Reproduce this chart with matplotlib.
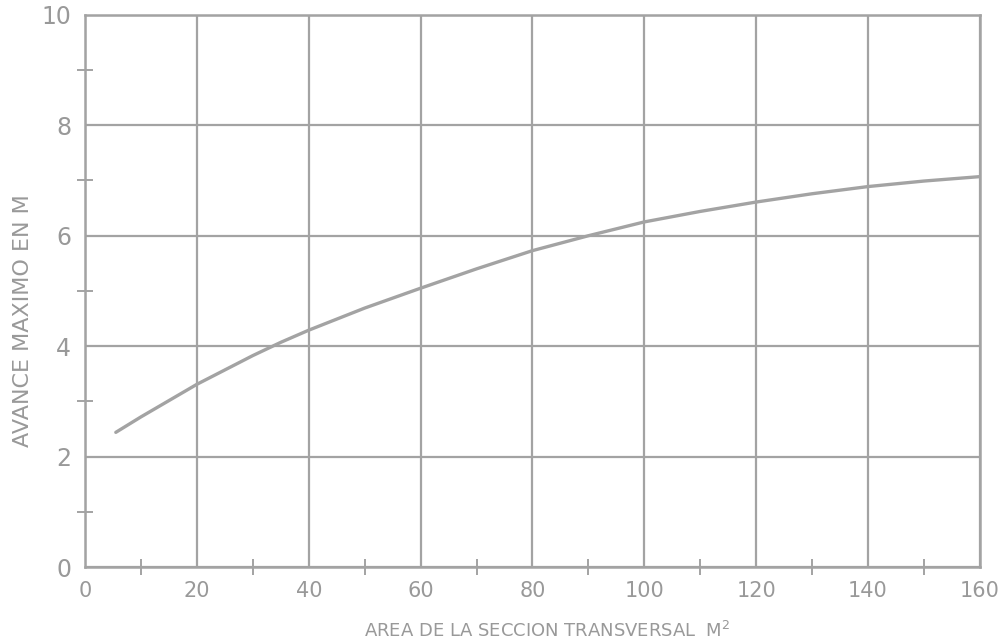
import numpy as np
import matplotlib
matplotlib.use('Agg')
import matplotlib.pyplot as plt
from matplotlib.ticker import MultipleLocator

# values
area = [5.5, 10, 20, 30, 35, 40, 50, 60, 70, 80, 90, 100, 110, 120, 130, 140, 150, 160]
avance = [2.44, 2.72, 3.31, 3.83, 4.07, 4.29, 4.69, 5.05, 5.40, 5.73, 6.0, 6.25, 6.44, 6.61, 6.76, 6.89, 6.99, 7.07]

xticks = [0, 20, 40, 60, 80, 100, 120, 140, 160]
xlabels = ['0', '20', '40', '60', '80', '100', '120', '140', '160']
yticks = [0, 2, 4, 6, 8, 10]

gray = '#a3a3a3'
txt = '#999999'

fig = plt.figure(figsize=(10.04, 6.43), dpi=100)
ax = fig.add_axes([0.0847, 0.118, 0.8913, 0.859])

ax.plot(area, avance, color=gray, lw=2.4, solid_capstyle='round')

ax.set_xlim(0, 160)
ax.set_ylim(0, 10)
ax.set_xticks(xticks)
ax.set_xticklabels(xlabels)
ax.set_yticks(yticks)
ax.xaxis.set_minor_locator(MultipleLocator(10))
ax.yaxis.set_minor_locator(MultipleLocator(1))
ax.grid(True, which='major', color=gray, lw=1.6)
ax.tick_params(which='major', length=0, labelcolor=txt, pad=10)
ax.tick_params(axis='x', which='major', labelsize=15)
ax.tick_params(axis='y', which='major', labelsize=17)
ax.tick_params(which='minor', direction='inout', length=11, width=1.4, color=gray)
for s in ax.spines.values():
    s.set_color(gray)
    s.set_linewidth(1.8)

ax.set_xlabel('AREA DE LA SECCION TRANSVERSAL  M$^2$', fontsize=13, color=txt)
ax.xaxis.set_label_coords(0.516, -0.098)
ax.set_ylabel('AVANCE MAXIMO EN M', fontsize=16, color=txt)
ax.yaxis.set_label_coords(-0.058, 0.447)

fig.savefig('out.png', dpi=100)
